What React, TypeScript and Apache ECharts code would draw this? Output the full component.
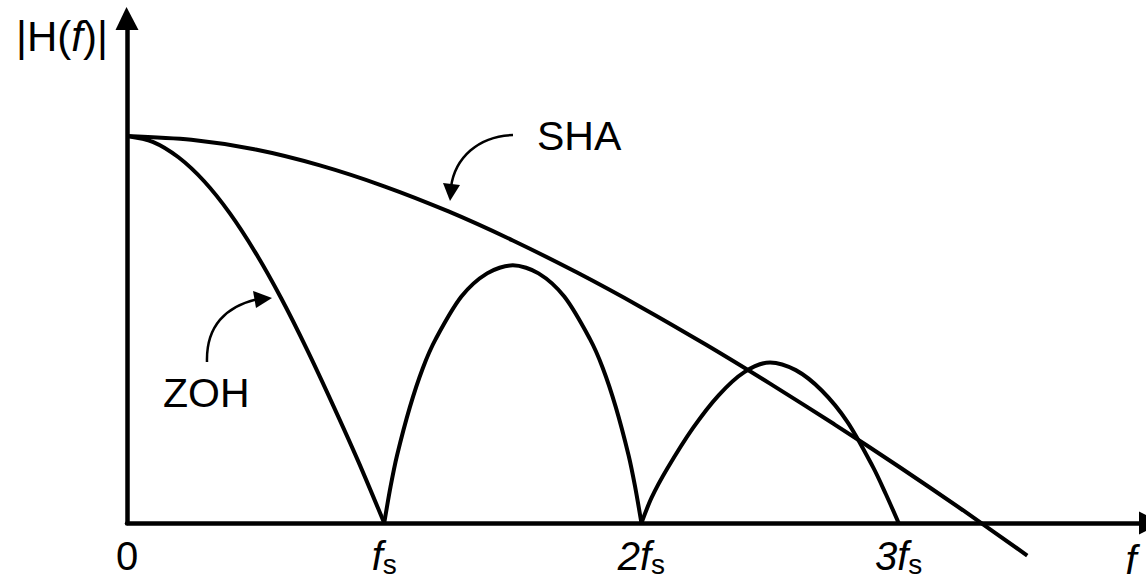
import React, { useEffect, useRef } from 'react';
import * as echarts from 'echarts';

// Frequency in multiples of fs, magnitude normalised to |H(0)| = 1
const zohMainLobe = [
  [0, 1.0], [0.1, 0.985], [0.2, 0.945], [0.3, 0.883], [0.4, 0.8], [0.5, 0.698],
  [0.6, 0.58], [0.7, 0.448], [0.8, 0.306], [0.9, 0.158], [1.0, 0],
];
const zohSecondLobe = [
  [1.0, 0], [1.025, 0.095], [1.05, 0.175], [1.1, 0.3], [1.15, 0.4], [1.2, 0.475],
  [1.3, 0.585], [1.4, 0.645], [1.5, 0.666], [1.6, 0.645], [1.7, 0.585], [1.8, 0.475],
  [1.85, 0.4], [1.9, 0.3], [1.95, 0.175], [1.975, 0.095], [2.0, 0],
];
const zohThirdLobe = [
  [2.0, 0], [2.04, 0.066], [2.1, 0.14], [2.2, 0.245], [2.3, 0.33], [2.4, 0.39],
  [2.5, 0.415], [2.6, 0.395], [2.7, 0.343], [2.8, 0.262], [2.9, 0.145], [2.95, 0.075], [3.0, 0],
];
const shaResponse = [
  [0, 1.0], [0.25, 0.99], [0.5, 0.965], [0.75, 0.924], [1.0, 0.87], [1.25, 0.805],
  [1.5, 0.73], [1.75, 0.647], [2.0, 0.557], [2.25, 0.461], [2.5, 0.36], [2.75, 0.255],
  [3.0, 0.146], [3.25, 0.033], [3.5, -0.084],
];

const xTickValues = [0, 1, 2, 3];
const xTickLabels = ['{n|0}', '{f|f}{s|s}', '{f|2f}{s|s}', '{f|3f}{s|s}'];

const FONT = '"Liberation Sans", Arial, Helvetica, sans-serif';
const INK = '#000';

export default function App() {
  const ref = useRef<HTMLDivElement>(null);

  useEffect(() => {
    if (!ref.current) return;
    const chart = echarts.init(ref.current, undefined, { renderer: 'svg' });

    const curve = (name: string, data: number[][]) => ({
      name,
      type: 'line',
      data,
      smooth: 0.3,
      symbol: 'none',
      clip: false,
      lineStyle: { color: INK, width: 4 },
      silent: true,
    });

    const axisLine = {
      show: true,
      onZero: false,
      lineStyle: { color: INK, width: 4.5 },
    };

    chart.setOption({
      animation: false,
      backgroundColor: '#fff',
      grid: { left: 127, right: 0, top: 28, bottom: 61, containLabel: false },
      xAxis: {
        type: 'value',
        min: 0,
        max: 3.95,
        interval: 1,
        axisLine,
        axisTick: { show: false },
        splitLine: { show: false },
        axisLabel: {
          margin: 13,
          formatter: (v: number) => {
            const i = xTickValues.indexOf(v);
            return i >= 0 ? xTickLabels[i] : '';
          },
          rich: {
            n: { fontSize: 40, fontFamily: FONT, color: INK, lineHeight: 42, verticalAlign: 'top' },
            f: { fontSize: 40, fontFamily: FONT, fontStyle: 'italic', color: INK, lineHeight: 42, verticalAlign: 'top' },
            s: { fontSize: 28, fontFamily: FONT, color: INK, lineHeight: 28, padding: [26, 0, 0, 0], verticalAlign: 'bottom' },
          },
        },
      },
      yAxis: {
        type: 'value',
        min: 0,
        max: 1.279,
        axisLine,
        axisTick: { show: false },
        axisLabel: { show: false },
        splitLine: { show: false },
      },
      series: [
        curve('ZOH', zohMainLobe),
        curve('ZOH', zohSecondLobe),
        curve('ZOH', zohThirdLobe),
        curve('SHA', shaResponse),
      ],
      graphic: [
        // axis arrowheads
        {
          type: 'polygon',
          shape: { points: [[126.5, 7], [115.5, 30], [138.5, 30]] },
          style: { fill: INK },
        },
        {
          type: 'polygon',
          shape: { points: [[1139, 511.5], [1139, 534.5], [1162, 523]] },
          style: { fill: INK },
        },
        {
          type: 'text',
          left: 16,
          top: 15,
          style: {
            text: '{a||H(}{b|f}{a|)|}',
            rich: {
              a: { fontSize: 42, fontFamily: FONT, fill: INK },
              b: { fontSize: 42, fontFamily: FONT, fontStyle: 'italic', fill: INK },
            },
          },
        },
        {
          type: 'text',
          x: 1131,
          y: 560,
          style: { text: 'f', fontSize: 40, fontFamily: FONT, fontStyle: 'italic', fill: INK, textAlign: 'center', textVerticalAlign: 'middle' },
        },
        {
          type: 'text',
          x: 537,
          y: 136,
          style: { text: 'SHA', fontSize: 41, fontFamily: FONT, fill: INK, textAlign: 'left', textVerticalAlign: 'middle' },
        },
        {
          type: 'text',
          x: 163,
          y: 393,
          style: { text: 'ZOH', fontSize: 41, fontFamily: FONT, fill: INK, textAlign: 'left', textVerticalAlign: 'middle' },
        },
        // pointer to the SHA curve
        {
          type: 'bezierCurve',
          shape: { x1: 513, y1: 135, cpx1: 478, cpy1: 136, cpx2: 455, cpy2: 158, x2: 451, y2: 187 },
          style: { stroke: INK, lineWidth: 2.5, fill: 'none' },
        },
        {
          type: 'polygon',
          shape: { points: [[443, 183], [460, 185], [450, 201]] },
          style: { fill: INK },
        },
        // pointer to the ZOH curve
        {
          type: 'bezierCurve',
          shape: { x1: 207, y1: 362, cpx1: 206, cpy1: 326, cpx2: 226, cpy2: 306, x2: 258, y2: 299 },
          style: { stroke: INK, lineWidth: 2.5, fill: 'none' },
        },
        {
          type: 'polygon',
          shape: { points: [[253, 291], [256, 308], [272, 298]] },
          style: { fill: INK },
        },
      ],
    });

    return () => chart.dispose();
  }, []);

  return (
    <div
      ref={ref}
      style={{ position: 'fixed', left: 0, top: 0, width: 1146, height: 584, background: '#fff' }}
    />
  );
}
